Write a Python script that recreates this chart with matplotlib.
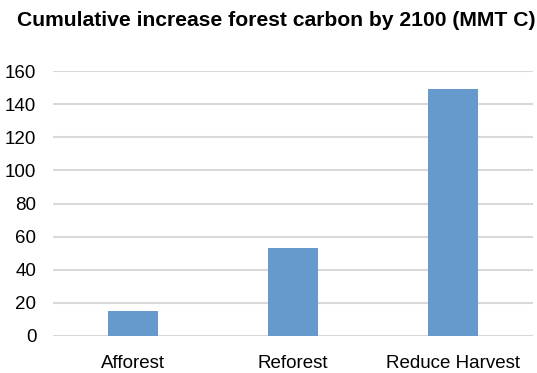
import matplotlib
matplotlib.use('Agg')
import matplotlib.pyplot as plt

# data
categories = ['Afforest', 'Reforest', 'Reduce Harvest']
carbon = [15, 53, 149]
yticks = [0, 20, 40, 60, 80, 100, 120, 140, 160]

plt.rcParams['font.family'] = ['Liberation Sans', 'DejaVu Sans']

fig = plt.figure(figsize=(5.37, 3.73), dpi=100)
ax = fig.add_axes([53 / 537, 1 - 336 / 373, 480 / 537, 265 / 373])

x = range(len(categories))
ax.bar(x, carbon, width=0.31, color='#6699cc', zorder=3)

ax.set_xlim(-0.5, 2.5)
ax.set_ylim(0, 160)
ax.set_yticks(yticks)
ax.set_xticks(list(x))
ax.set_xticklabels(categories, fontsize=13.5)
ax.tick_params(axis='y', labelsize=13.5, length=0, pad=12)
ax.tick_params(axis='x', length=0, pad=14)

# gridlines
ax.grid(axis='y', color='#d9d9d9', linewidth=1.5, zorder=0)
for s in ax.spines.values():
    s.set_visible(False)

fig.text(17 / 537, 1 - 20 / 373, 'Cumulative increase forest carbon by 2100 (MMT C)',
         fontsize=15.2, fontweight='bold', va='center', ha='left')

fig.savefig('out.png', dpi=100)
